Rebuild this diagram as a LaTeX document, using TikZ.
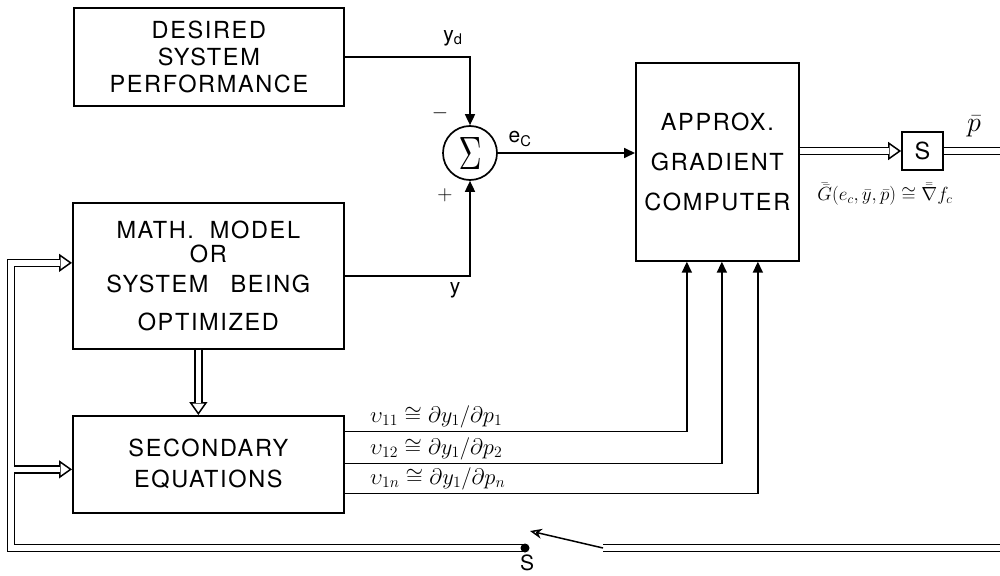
\RequirePackage{fix-cm}
\documentclass[tikz,border=0pt]{standalone}
\usepackage{fontspec}
\setmainfont{TeX Gyre Heros}
\newfontfamily\boxfont[LetterSpace=7]{TeX Gyre Heros}
\usetikzlibrary{arrows.meta,decorations.markings}
\begin{document}
\begin{tikzpicture}[x=1pt,y=-1pt,
  blk/.style={draw, line width=1.7pt, inner sep=0pt, align=center, font=\boxfont\fontsize{23.5}{27}\selectfont},
  sig/.style={line width=1.7pt, -{Triangle[length=11pt,width=10pt]}},
  dblline/.style={double, double distance=5.5pt, line width=1.5pt},
  dblarrow/.style={dblline, shorten >=12pt, preaction={decorate, decoration={markings, mark=at position 1 with {\arrow[line width=1.5pt]{Triangle[open,length=13pt,width=18pt]}}}}},
  lab/.style={font=\fontsize{21}{23}\selectfont, inner sep=0pt},
  mlab/.style={font=\fontsize{22.5}{24}\selectfont, inner sep=0pt, anchor=south west}
]
\useasboundingbox (0,0) rectangle (1000,575);
\fill[white] (0,0) rectangle (1000,575);

\node[blk, minimum width=270pt, minimum height=98pt, anchor=north west] (des) at (73,7) {DESIRED\\SYSTEM\\PERFORMANCE};
\node[blk, minimum width=271pt, minimum height=146pt, anchor=north west] (model) at (72,202) {MATH.\hspace{16pt}MODEL\\[-3pt]OR\\[3pt]SYSTEM\hspace{22pt}BEING\\[11pt]OPTIMIZED};
\node[blk, minimum width=271pt, minimum height=97pt, anchor=north west] (sec) at (72,415) {SECONDARY\\[4pt]EQUATIONS};
\node[blk, minimum width=163pt, minimum height=198pt, anchor=north west] (approx) at (635,62) {APPROX.\\[13pt]GRADIENT\\[13pt]COMPUTER};
\node[draw, circle, line width=1.7pt, minimum size=54pt, inner sep=0pt] (sum) at (470,153) {\resizebox*{23pt}{32pt}{$\Sigma$}};
\node[blk, minimum width=41pt, minimum height=38pt] (S) at (922.5,151) {S};

% signal lines
\draw[sig] (des.east) -| (sum.north);
\draw[sig] (model.east) -| (sum.south);
\draw[sig] (sum.east) -- (sum.east -| approx.west);
\draw[sig] ([yshift=33pt]sec.east) -| ([xshift=-30.5pt]approx.south);
\draw[sig] ([yshift=1pt]sec.east) -| ([xshift=4.5pt]approx.south);
\draw[sig] ([yshift=-29pt]sec.east) -| ([xshift=40.5pt]approx.south);

% double lines
\coordinate (pout) at (1000,151);
\draw[dblarrow] (S.west -| approx.east) -- (S.west);
\draw[dblline] (S.east) -- (pout);
\draw[dblarrow] ([xshift=-10pt]model.south) -- ([xshift=-10pt]sec.north);

\coordinate (sw) at (525,548);
\coordinate (lx) at (11,548);
\coordinate (lxi) at (13.75,548);
\coordinate (modin) at ([yshift=13pt]model.west);
\coordinate (secin) at ([yshift=-5pt]sec.west);
\draw[dblarrow] (sw) -- (lx) |- (modin);
\draw[dblarrow] (secin -| lxi) -- (secin);
\fill (sw) circle (4.5pt);

\coordinate (swr) at (603,548);
\coordinate (swt) at (530,531);
\coordinate (rin) at (1000,548);
\draw[dblline] (rin) -- (swr);
\draw[line width=1.5pt, -{Stealth[open,length=12pt,width=10pt]}] (swr) -- (swt);

% labels
\node[lab] (yd) at (453,38) {y\textsubscript{d}};
\node[lab] (minus) at (440,113) {$-$};
\node[lab] (plus) at (445,195) {$+$};
\node[lab] (ec) at (520,139) {e\textsubscript{C}};
\node[lab] (ylab) at (455,290) {y};
\node[font=\fontsize{28}{30}\selectfont, inner sep=0pt] (pbar) at (974,126) {$\bar{p}$};
\node[font=\fontsize{19}{21}\selectfont, inner sep=0pt] (glab) at (885,194) {$\bar{\bar G}(e_c,\bar y,\bar p)\cong\bar{\bar\nabla} f_c$};
\node[lab] (slab) at (527,563) {S};
\node[mlab] (v1) at (370,428) {$\upsilon_{11}\cong\partial y_1/\partial p_1$};
\node[mlab] (v2) at (370,460) {$\upsilon_{12}\cong\partial y_1/\partial p_2$};
\node[mlab] (v3) at (370,490) {$\upsilon_{1n}\cong\partial y_1/\partial p_n$};
\end{tikzpicture}
\end{document}
